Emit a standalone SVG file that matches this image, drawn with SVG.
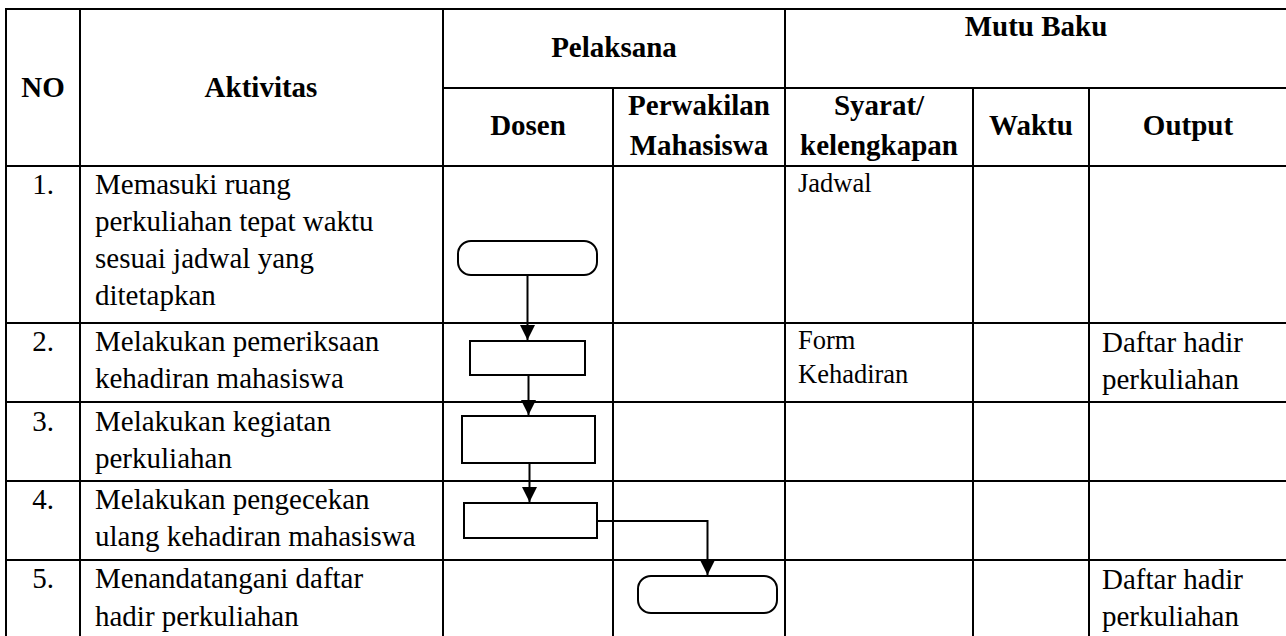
<svg xmlns="http://www.w3.org/2000/svg" width="1286" height="636" viewBox="0 0 1286 636">
<style>
.grid line{stroke:#000;stroke-width:2}
text{font-family:"Liberation Serif","Times New Roman",serif;fill:#000}
.h{font-size:29px;font-weight:bold;text-anchor:middle}
.t{font-size:29px}
.s{font-size:26.5px}
.n{font-size:29px;text-anchor:middle}
.shape{fill:#fff;stroke:#000;stroke-width:2}
.conn{fill:none;stroke:#000;stroke-width:2}
</style>
<defs>
<marker id="arr" markerUnits="userSpaceOnUse" markerWidth="15" markerHeight="15" viewBox="0 0 15 15" refX="15" refY="7.5" orient="auto">
<path d="M0,0 L15,7.5 L0,15 z" fill="#000"/>
</marker>
</defs>
<rect width="1286" height="636" fill="#fff"/>
<g id="table" class="grid">
<line x1="5" y1="9" x2="1286" y2="9"/>
<line x1="443" y1="88" x2="1286" y2="88"/>
<line x1="5" y1="166" x2="1286" y2="166"/>
<line x1="5" y1="323" x2="1286" y2="323"/>
<line x1="5" y1="402" x2="1286" y2="402"/>
<line x1="5" y1="481" x2="1286" y2="481"/>
<line x1="5" y1="560" x2="1286" y2="560"/>
<line x1="6" y1="8" x2="6" y2="636"/>
<line x1="80" y1="8" x2="80" y2="636"/>
<line x1="443" y1="8" x2="443" y2="636"/>
<line x1="613" y1="88" x2="613" y2="636"/>
<line x1="785" y1="8" x2="785" y2="636"/>
<line x1="973" y1="88" x2="973" y2="636"/>
<line x1="1089" y1="88" x2="1089" y2="636"/>
</g>
<g id="header">
<text class="h" x="43" y="97">NO</text>
<text class="h" x="261" y="97">Aktivitas</text>
<text class="h" x="614" y="57">Pelaksana</text>
<text class="h" x="1036" y="36">Mutu Baku</text>
<text class="h" x="528" y="135">Dosen</text>
<text class="h" x="699" y="115">Perwakilan</text>
<text class="h" x="699" y="155">Mahasiswa</text>
<text class="h" x="879" y="115">Syarat/</text>
<text class="h" x="879" y="155">kelengkapan</text>
<text class="h" x="1031" y="135">Waktu</text>
<text class="h" x="1188" y="135">Output</text>
</g>
<g id="row1">
<text class="n" x="43" y="194">1.</text>
<text class="t" x="95" y="194">Memasuki ruang</text>
<text class="t" x="95" y="231">perkuliahan tepat waktu</text>
<text class="t" x="95" y="268">sesuai jadwal yang</text>
<text class="t" x="95" y="304.5">ditetapkan</text>
<text class="s" x="798" y="192">Jadwal</text>
</g>
<g id="row2">
<text class="n" x="43" y="351">2.</text>
<text class="t" x="95" y="351">Melakukan pemeriksaan</text>
<text class="t" x="95" y="388">kehadiran mahasiswa</text>
<text class="s" x="798" y="349">Form</text>
<text class="s" x="798" y="383">Kehadiran</text>
<text class="t" x="1102" y="352">Daftar hadir</text>
<text class="t" x="1102" y="389">perkuliahan</text>
</g>
<g id="row3">
<text class="n" x="43" y="430.5">3.</text>
<text class="t" x="95" y="430.5">Melakukan kegiatan</text>
<text class="t" x="95" y="467.5">perkuliahan</text>
</g>
<g id="row4">
<text class="n" x="43" y="509">4.</text>
<text class="t" x="95" y="509">Melakukan pengecekan</text>
<text class="t" x="95" y="546">ulang kehadiran mahasiswa</text>
</g>
<g id="row5">
<text class="n" x="43" y="588">5.</text>
<text class="t" x="95" y="588">Menandatangani daftar</text>
<text class="t" x="95" y="626">hadir perkuliahan</text>
<text class="t" x="1102" y="589">Daftar hadir</text>
<text class="t" x="1102" y="626">perkuliahan</text>
</g>
<g id="node-start"><rect class="shape" x="458" y="241" width="139" height="34" rx="13"/></g>
<g id="node-periksa"><rect class="shape" x="470" y="341" width="115" height="34"/></g>
<g id="node-kuliah"><rect class="shape" x="462" y="416" width="133" height="47"/></g>
<g id="node-cek"><rect class="shape" x="464" y="503" width="133" height="35"/></g>
<g id="node-ttd"><rect class="shape" x="638" y="576" width="139" height="37" rx="13"/></g>
<g id="connectors" class="conn">
<path class="conn" d="M527.5,275 L527.5,340" marker-end="url(#arr)"/>
<path class="conn" d="M528.5,375 L528.5,415" marker-end="url(#arr)"/>
<path class="conn" d="M529.5,463 L529.5,502" marker-end="url(#arr)"/>
<path class="conn" d="M597,521 L707.5,521 L707.5,575" marker-end="url(#arr)"/>
</g>
</svg>
